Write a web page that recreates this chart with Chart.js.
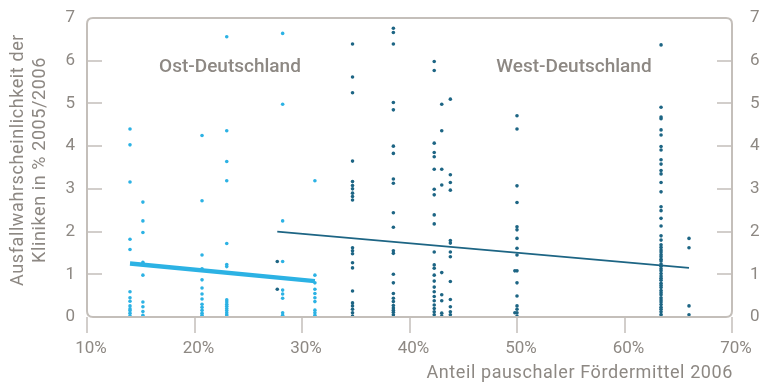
<!DOCTYPE html>
<html>
<head>
<meta charset="utf-8">
<script src="https://cdn.jsdelivr.net/npm/chart.js@4/dist/chart.umd.min.js"></script>
<style>
  html, body { margin: 0; padding: 0; background: #ffffff; }
  #wrap { width: 762px; height: 390px; }
</style>
</head>
<body>
<div id="wrap"><canvas id="c" width="762" height="390"></canvas></div>
<script>
// Anteil pauschaler Fördermittel (%) per hospital group, East
const ostX = [14.0, 15.2, 20.7, 23.0, 28.2, 31.2];
// Ausfallwahrscheinlichkeit (%) of the hospitals in each East group
const ostY = [
  [4.40, 4.03, 3.16, 1.82, 1.58, 0.59, 0.45, 0.37, 0.26, 0.19, 0.15, 0.09, 0.03],
  [2.69, 2.25, 1.98, 1.28, 0.98, 0.35, 0.24, 0.13, 0.04],
  [4.25, 2.72, 1.45, 1.13, 0.87, 0.68, 0.54, 0.42, 0.30, 0.23, 0.16, 0.09, 0.04],
  [6.56, 4.36, 3.64, 3.19, 1.72, 1.23, 1.18, 0.40, 0.35, 0.30, 0.25, 0.20, 0.15, 0.10, 0.05, 0.02],
  [6.64, 4.98, 2.25, 1.30, 0.63, 0.54, 0.44, 0.10, 0.04],
  [3.19, 0.98, 0.80, 0.65, 0.55, 0.45, 0.36, 0.16, 0.10, 0.04, 0.00]
];

// Anteil pauschaler Fördermittel (%) per hospital group, West
const westX = [27.7, 34.7, 38.5, 42.3, 43.0, 43.8, 49.8, 50.0, 63.4, 66.0];
const westY = [
  [1.30, 0.65],
  [6.39, 5.62, 5.25, 3.65, 3.17, 3.08, 3.00, 2.90, 2.82, 2.74, 1.62, 1.55, 1.48, 1.27, 1.15, 0.61, 0.33, 0.26, 0.18, 0.10, 0.02],
  [6.76, 6.66, 6.39, 5.02, 4.85, 4.00, 3.83, 3.23, 3.13, 2.44, 2.10, 1.55, 1.49, 1.00, 0.80, 0.55, 0.44, 0.36, 0.27, 0.21, 0.16, 0.11, 0.05, 0.01],
  [5.98, 5.77, 4.07, 3.85, 3.75, 3.46, 2.99, 2.86, 2.39, 2.18, 1.52, 1.22, 1.14, 0.98, 0.84, 0.70, 0.59, 0.48, 0.38, 0.28, 0.20, 0.12, 0.05],
  [4.98, 4.36, 3.46, 3.09, 1.04, 0.52, 0.38, 0.09, 0.02],
  [5.10, 3.33, 3.15, 2.97, 1.79, 1.73, 1.52, 1.41, 0.83, 0.41, 0.24, 0.12, 0.05],
  [1.08, 0.10],
  [4.71, 4.40, 3.07, 2.68, 2.11, 2.04, 1.84, 1.61, 1.45, 1.08, 0.80, 0.49, 0.26, 0.18, 0.10, 0.02],
  [6.37, 4.91, 4.68, 4.64, 4.38, 4.26, 3.99, 3.91, 3.68, 3.58, 3.43, 3.35, 3.15, 2.93, 2.58, 2.49, 2.31, 2.13, 1.90, 1.80, 1.69,
   1.63, 1.57, 1.52, 1.46, 1.41, 1.35, 1.31, 1.24, 1.19, 1.13, 1.08, 1.02, 0.96, 0.91, 0.86, 0.79, 0.74, 0.69, 0.62, 0.57,
   0.52, 0.45, 0.40, 0.35, 0.29, 0.23, 0.18, 0.12, 0.06, 0.01],
  [1.84, 1.62, 0.26, 0.05]
];

// Trend lines (start and end points)
const ostTrendX = [14.0, 31.2];
const ostTrendY = [1.25, 0.84];
const westTrendX = [27.7, 66.0];
const westTrendY = [2.00, 1.15];

// Axis tick values
const xTicks = [10, 20, 30, 40, 50, 60, 70];
const yTicks = [0, 1, 2, 3, 4, 5, 6, 7];

const xTitle = 'Anteil pauschaler Fördermittel 2006';
const yTitle = ['Ausfallwahrscheinlichkeit der', 'Kliniken in % 2005/2006'];
const ostLabel = 'Ost-Deutschland';
const westLabel = 'West-Deutschland';

const GRAY = '#8d8883';
const FRAME = '#c4bfba';
const OST = '#2cb2e4';
const WEST = '#1d6584';
const FONT = 'Roboto, "Open Sans", sans-serif';

function toPoints(xs, ys) {
  const pts = [];
  xs.forEach((x, i) => ys[i].forEach(y => pts.push({ x: x, y: y })));
  return pts;
}
function toLine(xs, ys) {
  return xs.map((x, i) => ({ x: x, y: ys[i] }));
}

// Frame with rounded corners and tick marks
const frame = {
  id: 'frame',
  afterDraw(chart) {
    const ctx = chart.ctx;
    const a = chart.chartArea;
    const xs = chart.scales.x, ys = chart.scales.y;
    ctx.save();
    ctx.setLineDash([]);
    ctx.globalAlpha = 1;
    ctx.strokeStyle = FRAME;
    ctx.lineWidth = 2;
    const L = Math.round(a.left), R = Math.round(a.right), T = Math.round(a.top), B = Math.round(a.bottom);
    const r = 6;
    ctx.beginPath();
    ctx.moveTo(L + r, T);
    ctx.lineTo(R - r, T);
    ctx.quadraticCurveTo(R, T, R, T + r);
    ctx.lineTo(R, B - r);
    ctx.quadraticCurveTo(R, B, R - r, B);
    ctx.lineTo(L + r, B);
    ctx.quadraticCurveTo(L, B, L, B - r);
    ctx.lineTo(L, T + r);
    ctx.quadraticCurveTo(L, T, L + r, T);
    ctx.stroke();

    ctx.lineWidth = 1.5;
    ctx.beginPath();
    yTicks.slice(1, -1).forEach(v => {
      const py = Math.round(ys.getPixelForValue(v));
      ctx.moveTo(L, py); ctx.lineTo(L + 15, py);
      ctx.moveTo(R - 15, py); ctx.lineTo(R, py);
    });
    xTicks.forEach(v => {
      const px = Math.round(xs.getPixelForValue(v));
      ctx.moveTo(px, B); ctx.lineTo(px, B + 16);
    });
    ctx.stroke();
    ctx.restore();
  }
};

// Titles and region labels
const texts = {
  id: 'texts',
  beforeDatasetsDraw(chart) {
    const ctx = chart.ctx;
    const a = chart.chartArea;
    const xs = chart.scales.x, ys = chart.scales.y;
    ctx.save();
    ctx.fillStyle = GRAY;
    ctx.font = '500 19px ' + FONT;
    ctx.textAlign = 'center';
    ctx.textBaseline = 'middle';
    ctx.fillText(ostLabel, xs.getPixelForValue(23.3), ys.getPixelForValue(5.85));
    ctx.fillText(westLabel, xs.getPixelForValue(55.3), ys.getPixelForValue(5.85));

    ctx.font = '18px ' + FONT;
    ctx.letterSpacing = '0.6px';
    ctx.textAlign = 'right';
    ctx.fillText(xTitle, a.right + 1, 373);

    ctx.translate(0, 160);
    ctx.rotate(-Math.PI / 2);
    ctx.textAlign = 'center';
    ctx.fillText(yTitle[0], 0, 18);
    ctx.fillText(yTitle[1], 0, 40);
    ctx.restore();
  }
};

const tickFont = { family: FONT, size: 17 };

new Chart(document.getElementById('c'), {
  type: 'scatter',
  data: {
    datasets: [
      { label: 'Ost', data: toPoints(ostX, ostY), backgroundColor: OST, borderWidth: 0, pointRadius: 1.8, order: 4 },
      { label: 'West', data: toPoints(westX, westY), backgroundColor: WEST, borderWidth: 0, pointRadius: 1.8, order: 3 },
      { type: 'line', label: 'Trend Ost', data: toLine(ostTrendX, ostTrendY), borderColor: OST, borderWidth: 4.5, pointRadius: 0, fill: false, order: 2 },
      { type: 'line', label: 'Trend West', data: toLine(westTrendX, westTrendY), borderColor: WEST, borderWidth: 1.8, pointRadius: 0, fill: false, order: 1 }
    ]
  },
  options: {
    responsive: false,
    animation: false,
    devicePixelRatio: 1,
    layout: { padding: { top: 18, left: 0, right: 0, bottom: 0 } },
    plugins: { legend: { display: false }, tooltip: { enabled: false } },
    scales: {
      x: {
        type: 'linear', min: 10, max: 70,
        afterBuildTicks: s => { s.ticks = xTicks.map(v => ({ value: v })); },
        afterFit: s => { s.height = 73; s.paddingLeft = 0; s.paddingRight = 0; },
        grid: { display: false, drawTicks: false },
        border: { display: false },
        ticks: { color: GRAY, font: tickFont, padding: 22, labelOffset: 4, maxRotation: 0, callback: v => v + '%' }
      },
      y: {
        type: 'linear', position: 'left', min: 0, max: 7,
        afterBuildTicks: s => { s.ticks = yTicks.map(v => ({ value: v })); },
        afterFit: s => { s.width = 87; s.paddingTop = 0; s.paddingBottom = 0; },
        grid: { display: false, drawTicks: false },
        border: { display: false },
        ticks: { color: GRAY, font: tickFont, padding: 12 }
      },
      y2: {
        type: 'linear', position: 'right', min: 0, max: 7,
        afterBuildTicks: s => { s.ticks = yTicks.map(v => ({ value: v })); },
        afterFit: s => { s.width = 30; s.paddingTop = 0; s.paddingBottom = 0; },
        grid: { display: false, drawTicks: false },
        border: { display: false },
        ticks: { color: GRAY, font: tickFont, padding: 18 }
      }
    }
  },
  plugins: [texts, frame]
});
</script>
</body>
</html>
